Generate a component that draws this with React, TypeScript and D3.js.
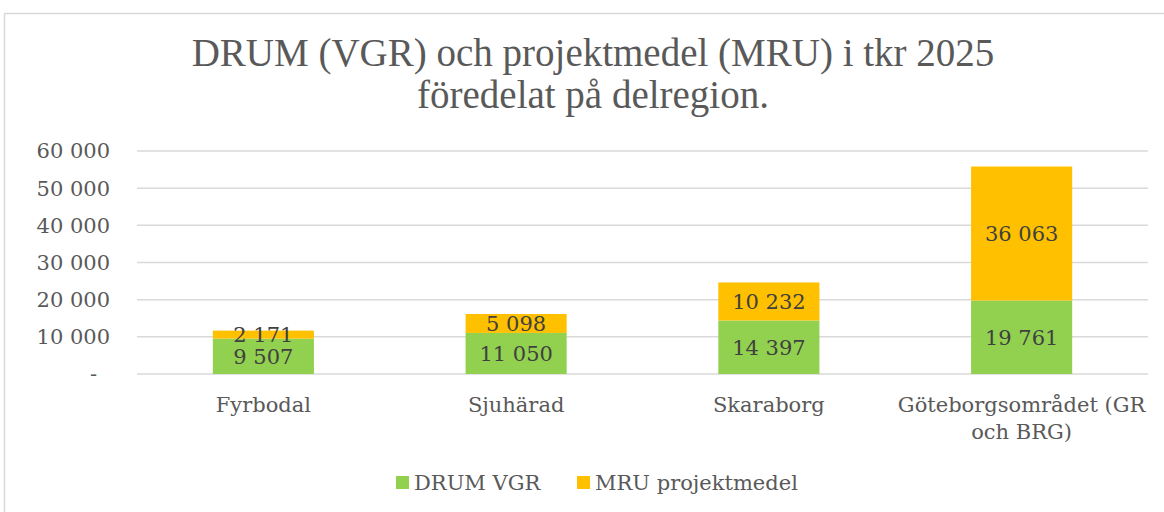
import { useEffect } from 'react'
import { formatLocale, scaleBand, scaleLinear, stack } from 'd3'

const categories = ['Fyrbodal', 'Sjuhärad', 'Skaraborg', 'Göteborgsområdet (GR och BRG)']
const categoryLines = [['Fyrbodal'], ['Sjuhärad'], ['Skaraborg'], ['Göteborgsområdet (GR', 'och BRG)']]
const drumValues = [9507, 11050, 14397, 19761]
const mruValues = [2171, 5098, 10232, 36063]
const seriesNames = ['DRUM VGR', 'MRU projektmedel']
const seriesColors = ['#92D050', '#FFC000']
const yTickValues = [0, 10000, 20000, 30000, 40000, 50000, 60000]
const titleLines = ['DRUM (VGR) och projektmedel (MRU) i tkr 2025', 'föredelat på delregion.']

const width = 1164
const height = 512
const margin = { top: 151, right: 16, bottom: 138, left: 137 }
const font = "'DejaVu Serif', Georgia, serif"

const svFormat = formatLocale({
  decimal: ',',
  thousands: ' ',
  grouping: [3],
  currency: ['', ' kr'],
}).format(',d')

function App() {
  useEffect(() => {
    document.body.style.margin = '0'
  }, [])

  const innerWidth = width - margin.left - margin.right
  const innerHeight = height - margin.top - margin.bottom

  const rows = categories.map((c, i) => ({ category: c, drum: drumValues[i], mru: mruValues[i] }))
  const stacked = stack<(typeof rows)[number]>().keys(['drum', 'mru'])(rows)

  const xScale = scaleBand().domain(categories).range([0, innerWidth]).paddingInner(0.6).paddingOuter(0.3)
  const yScale = scaleLinear().domain([0, 60000]).range([innerHeight, 0])

  return (
    <svg width={width} height={height} style={{ display: 'block', background: '#fff' }} fontFamily={font}>
      <rect x={4.5} y={13.5} width={width + 10} height={height + 10} fill="#fff" stroke="#d9d9d9" strokeWidth={1.5} />

      {titleLines.map((line, i) => (
        <text
          key={line}
          x={593}
          y={66 + i * 42}
          textAnchor="middle"
          fontSize={39}
          fill="#595959"
          fontFamily="'Liberation Serif', serif"
        >
          {line}
        </text>
      ))}

      <g transform={`translate(${margin.left}, ${margin.top})`}>
        {yTickValues.map((tick) => (
          <line
            key={tick}
            x1={0}
            x2={innerWidth}
            y1={yScale(tick)}
            y2={yScale(tick)}
            stroke="#d9d9d9"
            strokeWidth={1.5}
          />
        ))}
        {yTickValues.map((tick) => (
          <text
            key={`${tick}-label`}
            x={tick === 0 ? -40 : -27}
            y={yScale(tick)}
            dy="0.35em"
            textAnchor="end"
            fontSize={21}
            fill="#595959"
          >
            {tick === 0 ? '-' : svFormat(tick)}
          </text>
        ))}

        {stacked.map((series, si) =>
          series.map((d) => {
            const x = xScale(d.data.category) ?? 0
            return (
              <rect
                key={`${si}-${d.data.category}`}
                x={x}
                y={yScale(d[1])}
                width={xScale.bandwidth()}
                height={yScale(d[0]) - yScale(d[1])}
                fill={seriesColors[si]}
              />
            )
          })
        )}

        {stacked.map((series, si) =>
          series.map((d) => {
            const x = xScale(d.data.category) ?? 0
            return (
              <text
                key={`${si}-${d.data.category}-value`}
                x={x + xScale.bandwidth() / 2}
                y={(yScale(d[0]) + yScale(d[1])) / 2}
                dy="0.35em"
                textAnchor="middle"
                fontSize={21}
                fill="#404040"
              >
                {svFormat(d[1] - d[0])}
              </text>
            )
          })
        )}

        {categories.map((c, i) => {
          const x = (xScale(c) ?? 0) + xScale.bandwidth() / 2
          return (
            <text key={c} x={x} y={innerHeight + 38} textAnchor="middle" fontSize={21} fill="#595959">
              {categoryLines[i].map((line, li) => (
                <tspan key={line} x={x} dy={li === 0 ? 0 : 27}>
                  {line}
                </tspan>
              ))}
            </text>
          )
        })}
      </g>

      <g transform="translate(396, 476)">
        {seriesNames.map((name, i) => (
          <g key={name} transform={`translate(${i * 181}, 0)`}>
            <rect width={13} height={13} fill={seriesColors[i]} />
            <text x={18} y={7} dy="0.35em" fontSize={21} fill="#595959">
              {name}
            </text>
          </g>
        ))}
      </g>
    </svg>
  )
}

export default App
